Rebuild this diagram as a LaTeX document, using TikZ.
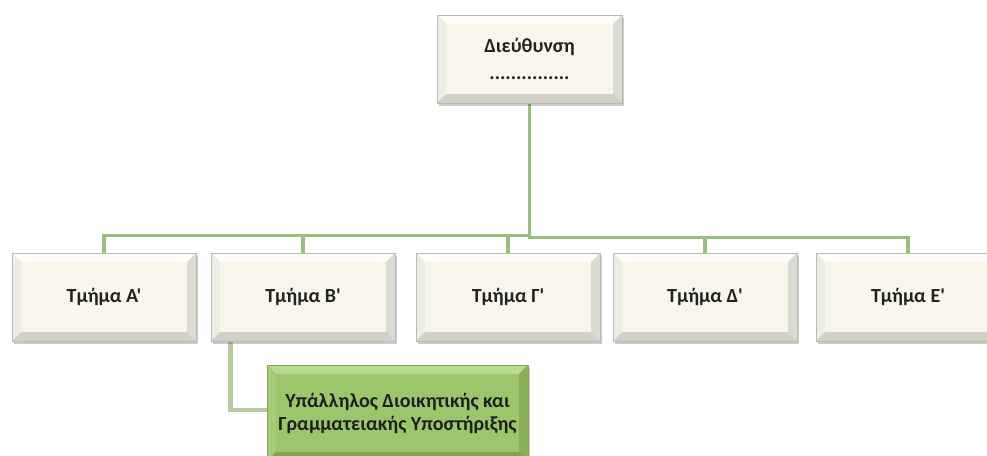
\documentclass[tikz,border=0pt]{standalone}
\usepackage{fontspec}
\newfontfamily\carl{Carlito}
\usetikzlibrary{calc,shadows}
\pgfdeclarelayer{background}
\pgfsetlayers{background,main}
\definecolor{cream}{HTML}{F8F6EA}
\definecolor{creamtop}{HTML}{FEFDF9}
\definecolor{creamleft}{HTML}{EEEDE3}
\definecolor{creamright}{HTML}{DCDBD1}
\definecolor{creambot}{HTML}{D2D1C7}
\definecolor{grn}{HTML}{9DC56C}
\definecolor{grntop}{HTML}{B9D98F}
\definecolor{grnleft}{HTML}{A6CB78}
\definecolor{grnright}{HTML}{89AF5B}
\definecolor{grnbot}{HTML}{80A453}
\definecolor{conn}{HTML}{9CBD80}
\definecolor{connlight}{HTML}{B5CDA1}
\definecolor{txt}{HTML}{222222}
\newcommand{\bevfaces}[5]{%
  \path (path picture bounding box.north west) coordinate (q1)
        (path picture bounding box.north east) coordinate (q2)
        (path picture bounding box.south east) coordinate (q3)
        (path picture bounding box.south west) coordinate (q4);
  \fill[#2] (q1) -- (q2) -- ($(q2)+(-#1,#1)$) -- ($(q1)+(#1,#1)$) -- cycle;
  \fill[#3] (q1) -- (q4) -- ($(q4)+(#1,-#1)$) -- ($(q1)+(#1,#1)$) -- cycle;
  \fill[#4] (q2) -- (q3) -- ($(q3)+(-#1,-#1)$) -- ($(q2)+(-#1,#1)$) -- cycle;
  \fill[#5] (q4) -- (q3) -- ($(q3)+(-#1,-#1)$) -- ($(q4)+(#1,-#1)$) -- cycle;
}
\tikzset{
  cbox/.style={rectangle, fill=cream, draw=gray!55, line width=0.6pt,
    minimum width=184pt, minimum height=88pt, inner sep=0pt,
    text=txt, align=center, font=\carl\fontsize{20}{24}\selectfont\bfseries,
    drop shadow={shadow xshift=2pt, shadow yshift=-3pt, fill=black, opacity=0.2},
    path picture={\bevfaces{9}{creamtop}{creamleft}{creamright}{creambot}}},
  gbox/.style={rectangle, fill=grn, draw=grnbot, line width=0.6pt,
    minimum width=261pt, minimum height=96pt, inner sep=0pt,
    text=black!88, align=center, font=\carl\fontsize{20}{23}\selectfont\bfseries,
    drop shadow={shadow xshift=2pt, shadow yshift=-3pt, fill=black, opacity=0.2},
    path picture={\bevfaces{9}{grntop}{grnleft}{grnright}{grnbot}}},
  connline/.style={draw=conn, line width=3.6pt},
  sublink/.style={draw=connlight, line width=4.5pt}
}
\begin{document}
\begin{tikzpicture}[x=1pt,y=-1pt]
\useasboundingbox (0,0) rectangle (987,455);
\begin{pgfonlayer}{background}
\fill[white] (0,0) rectangle (987,455);
\end{pgfonlayer}
\node[cbox, minimum width=185pt] (dir) at (529.5,59) {Διεύθυνση\\[3pt]...............};
\node[cbox] (A) at (104,297) {Τμήμα Α'};
\node[cbox] (B) at (303,297) {Τμήμα Β'};
\node[cbox] (C) at (508,297) {Τμήμα Γ'};
\node[cbox] (D) at (705,297) {Τμήμα Δ'};
\node[cbox] (E) at (908,297) {Τμήμα Ε'};
\node[gbox] (G) at (397.5,413) {Υπάλληλος Διοικητικής και\\Γραμματειακής Υποστήριξης};
\coordinate (bk) at ($(B.south west)+(20,0)$);
\coordinate (gk) at ($(G.west)+(0,-3)$);
\begin{pgfonlayer}{background}
\draw[connline] (dir.south) -- ++(0,132) -| (A.north);
\draw[connline] (dir.south) -- ++(0,132) -| (B.north);
\draw[connline] (dir.south) -- ++(0,132) -| (C.north);
\draw[connline] (dir.south) -- ++(0,134) -| (D.north);
\draw[connline] (dir.south) -- ++(0,134) -| (E.north);
\draw[sublink] (bk) |- (gk);
\end{pgfonlayer}
\end{tikzpicture}
\end{document}
